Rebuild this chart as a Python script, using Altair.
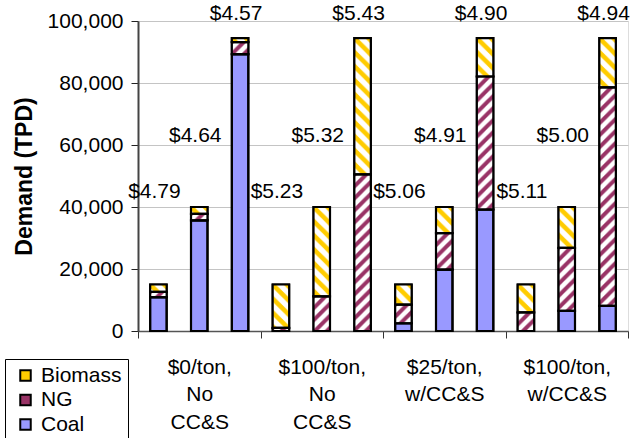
import altair as alt
import pandas as pd
from urllib.parse import quote

# ---- data ----
groups = ["$0/ton, No CC&S", "$100/ton, No CC&S", "$25/ton, w/CC&S", "$100/ton, w/CC&S"]
sizes = ["Small", "Medium", "Large"]
fuels = ["Coal", "NG", "Biomass"]

coal = [10900, 35700, 89300, 0, 0, 0, 2500, 19800, 39200, 0, 6500, 8100]
ng = [1700, 2100, 3900, 1000, 11200, 50500, 6000, 11800, 42900, 6000, 20300, 70500]
biomass = [2400, 2200, 1300, 14000, 28800, 44000, 6500, 8400, 12400, 9000, 13200, 15900]
prices = [4.79, 4.64, 4.57, 5.23, 5.32, 5.43, 5.06, 4.91, 4.90, 5.11, 5.00, 4.94]
label_level = [44800, 63000, 102400]  # height of the price labels, per size

rows, bars = [], []
for gi, g in enumerate(groups):
    for si, s in enumerate(sizes):
        k = gi * 3 + si
        for fi, (f, arr) in enumerate(zip(fuels, [coal, ng, biomass])):
            rows.append(dict(group=g, size=s, fuel=f, order=fi, value=arr[k]))
        bars.append(dict(group=g, size=s, price=prices[k], level=label_level[si]))
df = pd.DataFrame(rows)
dfb = pd.DataFrame(bars)


def stripes(color, p, sw, direction):
    if direction == "/":
        d = f"M-2,2 L2,-2 M0,{p} L{p},0 M{p-2},{p+2} L{p+2},{p-2}"
    else:
        d = f"M-2,{p-2} L2,{p+2} M0,0 L{p},{p} M{p-2},-2 L{p+2},2"
    svg = (
        "<svg xmlns='http://www.w3.org/2000/svg' width='100%' height='100%'>"
        f"<defs><pattern id='p' width='{p}' height='{p}' patternUnits='userSpaceOnUse'>"
        f"<rect width='{p}' height='{p}' fill='white'/>"
        f"<path d='{d}' stroke='{color}' stroke-width='{sw}'/></pattern></defs>"
        "<rect width='100%' height='100%' fill='url(#p)'/></svg>"
    )
    return "data:image/svg+xml;charset=utf-8," + quote(svg)


NG_COLOR = "#993366"
BIO_COLOR = "#FFCC00"
COAL_COLOR = "#9999FF"
FONT = "Liberation Sans"

x_enc = alt.X(
    "group:N",
    sort=groups,
    title=None,
    scale=alt.Scale(paddingInner=0, paddingOuter=0),
    axis=alt.Axis(
        labelExpr="split(datum.label, ' ')",
        labelAngle=0,
        labelFontSize=21,
        labelFont=FONT,
        labelColor="black",
        labelLineHeight=27.5,
        labelBaseline="top",
        labelPadding=18,
        tickBand="extent",
        tickSize=7,
        tickColor="#333333",
        domainColor="#555555",
        domainWidth=1.5,
        grid=False,
    ),
)
xo_enc = alt.XOffset("size:N", sort=sizes, scale=alt.Scale(paddingInner=0.596, paddingOuter=0.298))
y_axis = alt.Axis(
    values=[0, 20000, 40000, 60000, 80000, 100000],
    format=",d",
    labelFontSize=21,
    labelFont=FONT,
    labelColor="black",
    labelPadding=8,
    tickSize=7,
    tickColor="#222222",
    domainColor="#444444",
    domainWidth=2,
    grid=True,
    gridColor="#C4C4C4",
    title="Demand (TPD)",
    titleFont=FONT,
    titleFontSize=23,
    titleFontWeight="bold",
    titleColor="black",
    titlePadding=11,
)
y_scale = alt.Scale(domain=[0, 100000], nice=False, zero=True)
y_enc = alt.Y("y0:Q", scale=y_scale, axis=y_axis)
y2_enc = alt.Y2("y1:Q")

base = alt.Chart(df).transform_stack(
    stack="value",
    groupby=["group", "size"],
    as_=["y0", "y1"],
    sort=[alt.SortField("order", order="ascending")],
)

filled = base.mark_bar(stroke="black", strokeWidth=2).encode(
    x=x_enc,
    xOffset=xo_enc,
    y=y_enc,
    y2=y2_enc,
    fill=alt.Fill(
        "fuel:N",
        scale=alt.Scale(domain=["Biomass", "NG", "Coal"], range=[BIO_COLOR, NG_COLOR, COAL_COLOR]),
        legend=alt.Legend(
            title=None,
            orient="none",
            legendX=-133,
            legendY=338,
            symbolType="square",
            symbolSize=110,
            symbolStrokeColor="black",
            symbolStrokeWidth=2,
            labelFontSize=21,
            labelFont=FONT,
            labelColor="black",
            labelOffset=5,
            symbolOffset=4,
            rowPadding=2.5,
            padding=6,
            strokeColor="black",
            fillColor="white",
        ),
    ),
)

ng_img = base.transform_filter(alt.datum.fuel == "NG").mark_image(aspect=False).encode(
    x=x_enc, xOffset=xo_enc, y=y_enc, y2=y2_enc, url=alt.value(stripes(NG_COLOR, 12, 4, "/"))
)
bio_img = base.transform_filter(alt.datum.fuel == "Biomass").mark_image(aspect=False).encode(
    x=x_enc, xOffset=xo_enc, y=y_enc, y2=y2_enc, url=alt.value(stripes(BIO_COLOR, 14, 4.5, "\\"))
)

outline = base.mark_bar(fill="transparent", stroke="black", strokeWidth=2.2).encode(
    x=x_enc, xOffset=xo_enc, y=y_enc, y2=y2_enc
)

labels = alt.Chart(dfb).mark_text(
    font=FONT, fontSize=21, color="black", align="center", baseline="middle", dx=-4
).encode(
    x=x_enc,
    xOffset=xo_enc,
    y=alt.Y("level:Q", scale=y_scale, axis=y_axis),
    text=alt.Text("price:Q", format="$.2f"),
)

chart = (
    alt.layer(filled, ng_img, bio_img, outline, labels)
    .properties(
        width=490,
        height=310,
        autosize=alt.AutoSizeParams(type="none"),
        padding={"left": 138, "top": 21, "right": 6, "bottom": 107},
    )
    .configure_view(stroke="#909090", strokeWidth=1.5)
    .configure(background="white")
)

chart.save("out.html", embed_options={"renderer": "svg", "actions": False})
